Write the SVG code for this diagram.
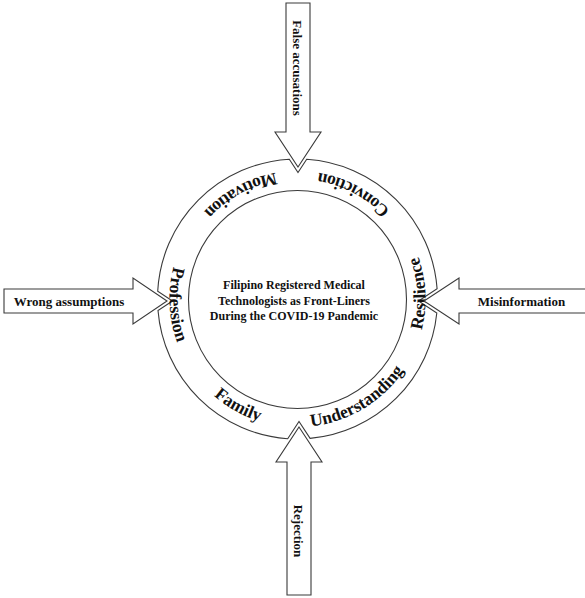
<svg xmlns="http://www.w3.org/2000/svg" xmlns:xlink="http://www.w3.org/1999/xlink" width="585" height="598" viewBox="0 0 585 598">
  <style>
    .ln { fill: #ffffff; stroke: #3a3a3a; stroke-width: 1.1; stroke-linejoin: miter; }
    .ring { fill: none; stroke: #3a3a3a; stroke-width: 1.1; }
    .lbl { font-family: "Liberation Serif", "Times New Roman", serif; font-weight: bold; font-size: 13px; fill: #111; }
    .ctr { font-family: "Liberation Serif", "Times New Roman", serif; font-weight: bold; font-size: 12px; fill: #111; text-anchor: middle; }
    .rt { font-family: "Liberation Serif", "Times New Roman", serif; font-weight: bold; font-size: 17.5px; fill: #111; text-anchor: middle; }
  </style>
  <defs>
    <path id="ringpath" d="M297.5,171 A128,128 0 0 0 297.5,427 A128,128 0 0 0 297.5,171"/>
  </defs>
  <rect width="585" height="598" fill="#ffffff"/>

  <g id="ring">
    <path class="ring" d="M306.7,159.3 A140,140 0 0 1 437.1,288.8 L418.5,301 L436.8,313 A140,140 0 0 1 310.1,438.4 L299,421.5 L287.7,438.7 A140,140 0 0 1 158,310.5 L172.5,301 L157.7,291.3 A140,140 0 0 1 289.3,159.2 L298,172.5 Z"/>
    <circle class="ring" cx="297.5" cy="299.5" r="109"/>
    <text class="rt"><textPath xlink:href="#ringpath" href="#ringpath" startOffset="63.7">Motivation</textPath></text>
    <text class="rt"><textPath xlink:href="#ringpath" href="#ringpath" startOffset="206.9">Profession</textPath></text>
    <text class="rt"><textPath xlink:href="#ringpath" href="#ringpath" startOffset="336.9">Family</textPath></text>
    <text class="rt"><textPath xlink:href="#ringpath" href="#ringpath" startOffset="471.4">Understanding</textPath></text>
    <text class="rt"><textPath xlink:href="#ringpath" href="#ringpath" startOffset="608.8">Resilience</textPath></text>
    <text class="rt"><textPath xlink:href="#ringpath" href="#ringpath" startOffset="741.7">Conviction</textPath></text>
  </g>

  <g id="center">
    <text class="ctr" x="294" y="289">Filipino Registered Medical</text>
    <text class="ctr" x="294" y="305">Technologists as Front-Liners</text>
    <text class="ctr" x="294" y="320">During the COVID-19 Pandemic</text>
  </g>

  <g id="connectors">
    <g id="arrow-top">
      <polygon class="ln" points="286,3 310,3 310,132 321,132 298,167 275,132 286,132"/>
      <text class="lbl" text-anchor="middle" transform="translate(293,68) rotate(90)">False accusations</text>
    </g>
    <g id="arrow-bottom">
      <polygon class="ln" points="299,427 322,462 311,462 311,595 287,595 287,462 276,462"/>
      <text class="lbl" text-anchor="middle" transform="translate(294,531) rotate(90)">Rejection</text>
    </g>
    <g id="arrow-left">
      <polygon class="ln" points="4,289 133,289 133,278 167,301 133,324 133,313 4,313"/>
      <text class="lbl" text-anchor="middle" x="69" y="306">Wrong assumptions</text>
    </g>
    <g id="arrow-right">
      <polygon class="ln" points="590,289 459,289 459,278 424,301 459,324 459,313 590,313"/>
      <text class="lbl" text-anchor="middle" x="521.5" y="306">Misinformation</text>
    </g>
  </g>
</svg>
